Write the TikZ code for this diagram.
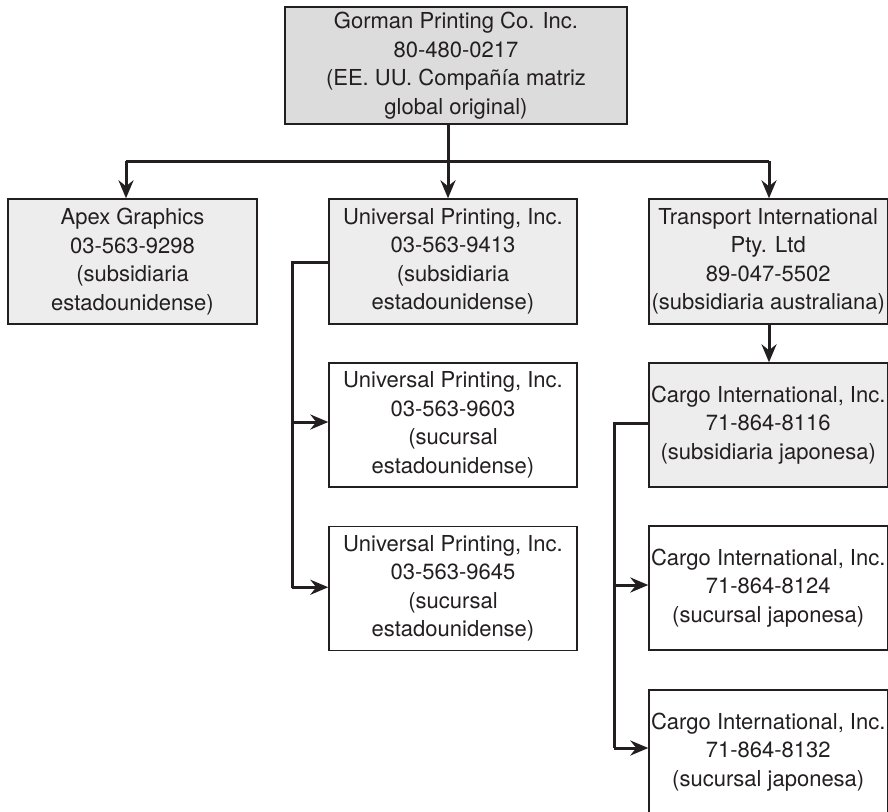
\documentclass[tikz,border=0pt]{standalone}
\usepackage{fontspec}
\setmainfont{TeX Gyre Heros}
\usetikzlibrary{arrows.meta}
\definecolor{ink}{HTML}{231F20}
\definecolor{darkfill}{HTML}{DCDCDD}
\definecolor{lightfill}{HTML}{EDEDED}
\tikzset{
  company/.style={draw=ink, line width=1.4pt, rectangle, inner sep=0pt,
    align=center, text=ink, font=\fontsize{22pt}{28.5pt}\selectfont,
    execute at begin node={\rule{0pt}{23pt}}},
  parentbox/.style={company, fill=darkfill, minimum width=342pt, minimum height=117pt},
  subbox/.style={company, fill=lightfill, minimum width=#1, minimum height=125pt},
  branchbox/.style={company, fill=white, minimum width=#1, minimum height=124pt},
  link/.style={draw=ink, line width=3pt},
  arrowlink/.style={link, -{Stealth[length=18pt,width=15pt,inset=6pt]}}
}
\begin{document}
\begin{tikzpicture}[x=1pt,y=-1pt]
  \useasboundingbox (0,0) rectangle (888,811);
  \begin{scope}
  \clip (0,0) rectangle (888,811);

  % parent company
  \node[parentbox] (gorman) at (456,65.5)
    {Gorman Printing Co. Inc.\\80-480-0217\\(EE. UU. Compañía matriz\\global original)};

  % first level subsidiaries
  \node[subbox=249pt] (apex) at (132.5,261.5)
    {Apex Graphics\\03-563-9298\\(subsidiaria\\estadounidense)};
  \node[subbox=248pt] (univ) at (453,261.5)
    {Universal Printing, Inc.\\03-563-9413\\(subsidiaria\\estadounidense)};
  \node[subbox=238.5pt] (trans) at (768.25,261.5)
    {Transport International\\Pty. Ltd\\89-047-5502\\(subsidiaria australiana)};

  % Universal Printing branches
  \node[branchbox=248pt] (u9603) at (453,425)
    {Universal Printing, Inc.\\03-563-9603\\(sucursal\\estadounidense)};
  \node[branchbox=248pt] (u9645) at (453,588.25)
    {Universal Printing, Inc.\\03-563-9645\\(sucursal\\estadounidense)};

  % Japanese subsidiary and its branches
  \node[subbox=238.5pt, minimum height=124pt] (cargo) at (768.25,425)
    {Cargo International, Inc.\\71-864-8116\\(subsidiaria japonesa)};
  \node[branchbox=238.5pt] (c8124) at (768.25,588)
    {Cargo International, Inc.\\71-864-8124\\(sucursal japonesa)};
  \node[branchbox=238.5pt] (c8132) at (768.25,752)
    {Cargo International, Inc.\\71-864-8132\\(sucursal japonesa)};

  % distribution bus under the parent company
  \coordinate (hub) at (448,161);
  \coordinate (apexdrop) at (126,161);
  \coordinate (transdrop) at (769,161);
  \draw[arrowlink] (gorman.south -| hub) -- (univ.north -| hub);
  \draw[link] (apexdrop) -- (transdrop);
  \draw[arrowlink] (apexdrop) -- (apex.north -| apexdrop);
  \draw[arrowlink] (transdrop) -- (trans.north -| transdrop);

  % Transport -> Cargo
  \draw[arrowlink] (trans.south -| transdrop) -- (cargo.north -| transdrop);

  % Universal Printing branch bus
  \coordinate (ubus) at (292,262);
  \draw[link] (univ.west |- ubus) -- (ubus) -- (ubus |- u9645.west);
  \draw[arrowlink] ([yshift=3pt]u9603.west -| ubus) -- ([yshift=3pt]u9603.west);
  \draw[arrowlink] ([yshift=1pt]u9645.west -| ubus) -- ([yshift=1pt]u9645.west);

  % Cargo International branch bus
  \coordinate (cbus) at (614,423);
  \draw[link] (cargo.west |- cbus) -- (cbus) -- ([yshift=4pt]cbus |- c8132.west);
  \draw[arrowlink] ([yshift=3pt]c8124.west -| cbus) -- ([yshift=3pt]c8124.west);
  \draw[arrowlink] ([yshift=4pt]c8132.west -| cbus) -- ([yshift=4pt]c8132.west);
  \end{scope}
\end{tikzpicture}
\end{document}
